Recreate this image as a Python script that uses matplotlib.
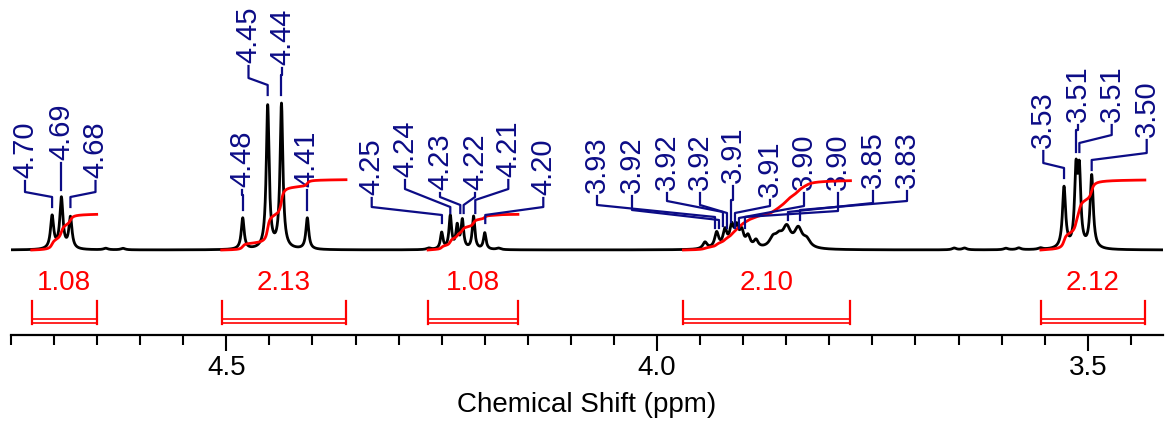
import numpy as np
import matplotlib
matplotlib.use('Agg')
import matplotlib.pyplot as plt

plt.rcParams['font.family'] = ['Liberation Sans', 'DejaVu Sans']

# peak table: position (ppm), height (tallest = 100), half width (ppm)
peak_ppm = [4.7023, 4.6915, 4.6810,
            4.4810, 4.4520, 4.4360, 4.4060,
            4.2500, 4.2400, 4.2320, 4.2260, 4.2130, 4.2000,
            3.9443, 3.9308, 3.9211, 3.9133, 3.9075, 3.9017, 3.8944, 3.8851,
            3.8654, 3.8584, 3.8495, 3.8360, 3.8263,
            3.5275, 3.5136, 3.5097, 3.4954,
            4.6400, 4.6200, 4.2650, 4.1840, 3.6550, 3.6430, 3.5950, 3.5800, 3.5550]
peak_height = [22, 34, 21,
               21, 96, 97, 21,
               11, 22, 15, 19, 22, 11,
               4.5, 10.5, 11.5, 13.5, 12.5, 10, 7.5, 5,
               6, 6, 13, 12.5, 5,
               41, 49, 48, 49,
               1.0, 1.0, 1.0, 1.0, 1.2, 1.2, 1.0, 1.2, 1.0]
peak_width = [0.0022, 0.0022, 0.0022,
              0.0020, 0.0020, 0.0020, 0.0020,
              0.0018, 0.0018, 0.0018, 0.0018, 0.0018, 0.0018,
              0.0030, 0.0028, 0.0028, 0.0028, 0.0028, 0.0028, 0.0030, 0.0030,
              0.0050, 0.0050, 0.0055, 0.0055, 0.0050,
              0.0022, 0.0020, 0.0020, 0.0022,
              0.003, 0.003, 0.003, 0.003, 0.003, 0.003, 0.003, 0.003, 0.003]

# integrals: region (ppm from, ppm to) and value
int_from = [4.7260, 4.5054, 4.2659, 3.9695, 3.5545]
int_to = [4.6505, 4.3611, 4.1614, 3.7754, 3.4335]
int_value = ['1.08', '2.13', '1.08', '2.10', '2.12']
int_num = [1.08, 2.13, 1.08, 2.10, 2.12]

# peak labels
label_text = ['4.70', '4.69', '4.68',
              '4.48', '4.45', '4.44', '4.41',
              '4.25', '4.24', '4.23', '4.22', '4.21', '4.20',
              '3.93', '3.92', '3.92', '3.92', '3.91', '3.91', '3.90', '3.90', '3.85', '3.83',
              '3.53', '3.51', '3.51', '3.50']
label_peak = [4.7023, 4.6915, 4.6810,
              4.4810, 4.4520, 4.4360, 4.4060,
              4.2497, 4.2400, 4.2284, 4.2245, 4.2110, 4.1994,
              3.9327, 3.9281, 3.9235, 3.9188, 3.9142, 3.9095, 3.9049, 3.8979, 3.8480, 3.8340,
              3.5275, 3.5136, 3.5097, 3.4954]

# layout of the labels (pixels of the 1169x422 canvas): text x, text bottom, elbow top, elbow bottom, tip
lab_x = [25, 61, 95.5,
         242.3, 248.5, 282, 306.7,
         371.7, 405, 440, 475, 508.3, 543.3,
         597, 632, 667, 700, 733, 770, 804, 838, 873, 907,
         1043.3, 1077.5, 1111.7, 1146.7]
lab_bot = [178, 160, 178,
           187, 63, 65, 187,
           195, 177, 190, 190, 177, 195,
           193, 193, 190, 190, 183, 197, 190, 190, 188, 188,
           148, 122, 122, 137]
lab_e1 = [192, 170, 192,
          195, 78, 75, 195,
          207, 189, 197, 197, 189, 207,
          205, 210, 201, 205, 200, 206, 206, 211, 203, 201,
          163, 130, 135, 153]
lab_e2 = [197, 170, 197,
          195, 85, 75, 195,
          215, 207, 205, 205, 200, 215,
          217, 220, 212, 213, 200, 213, 218, 217, 212, 210,
          168, 130, 143, 160]
lab_tip = [207, 190, 207,
           210, 95, 95, 210,
           223, 213, 213, 213, 213, 223,
           228, 228, 226, 228, 222, 228, 228, 228, 220, 220,
           178, 152, 152, 170]

W, H = 1169, 422
X0, X1 = 11, 1163
PPM0, PPM1 = 4.75, 3.4126
BASE_PX, AXIS_PX, PX_PER_UNIT = 250, 335, 1.49


def px2ppm(px):
    return PPM0 - (px - X0) * (PPM0 - PPM1) / (X1 - X0)


def px2y(py):
    return (BASE_PX - py) / PX_PER_UNIT


fig = plt.figure(figsize=(W / 100, H / 100), dpi=100)
ax = fig.add_axes([X0 / W, (H - AXIS_PX) / H, (X1 - X0) / W, AXIS_PX / H])
ax.set_xlim(PPM0, PPM1)
ax.set_ylim(px2y(AXIS_PX), px2y(0))

x = np.linspace(PPM0, PPM1, 8000)
y = np.zeros_like(x)
for p, h, w in zip(peak_ppm, peak_height, peak_width):
    y += h * w ** 2 / ((x - p) ** 2 + w ** 2)
ax.plot(x, y, color='black', lw=2.0, zorder=3)

# integral curves and brackets
scale = 33 / PX_PER_UNIT
for a, b, txt, val in zip(int_from, int_to, int_value, int_num):
    m = (x <= a) & (x >= b)
    cum = np.cumsum(y[m])
    cum = cum / cum[-1] * val * scale
    ax.plot(x[m], cum, color='red', lw=2.0, zorder=4)
    ax.plot([a, a], [px2y(301), px2y(324)], color='red', lw=1.6)
    ax.plot([b, b], [px2y(301), px2y(324)], color='red', lw=1.6)
    ax.plot([a, b], [px2y(318.5), px2y(318.5)], color='red', lw=1.2)
    ax.plot([a, b], [px2y(322.5), px2y(322.5)], color='red', lw=1.2)
    ax.text((a + b) / 2, px2y(283), txt, color='red', fontsize=20,
            ha='center', va='center')

navy = '#0c0c86'
for t, pk, lx, yb, e1, e2, tip in zip(label_text, label_peak, lab_x, lab_bot,
                                       lab_e1, lab_e2, lab_tip):
    lxp = px2ppm(lx)
    ax.plot([lxp, lxp, pk, pk], [px2y(yb + 3), px2y(e1), px2y(e2), px2y(tip)],
            color=navy, lw=1.6, zorder=5)
    ax.text(lxp, px2y(yb), t, rotation=90, color=navy, fontsize=21,
            ha='center', va='bottom')

for s in ['top', 'left', 'right']:
    ax.spines[s].set_visible(False)
ax.spines['bottom'].set_linewidth(1.6)
ax.set_yticks([])
ax.set_xticks([4.5, 4.0, 3.5])
ax.set_xticks(np.arange(3.45, 4.751, 0.05), minor=True)
ax.set_xticklabels(['4.5', '4.0', '3.5'])
ax.tick_params(axis='x', which='major', length=11.5, width=1.5, labelsize=20, pad=3)
ax.tick_params(axis='x', which='minor', length=7.5, width=1.5)
ax.set_xlabel('Chemical Shift (ppm)', fontsize=20, labelpad=8)

fig.savefig('out.png', dpi=100)
